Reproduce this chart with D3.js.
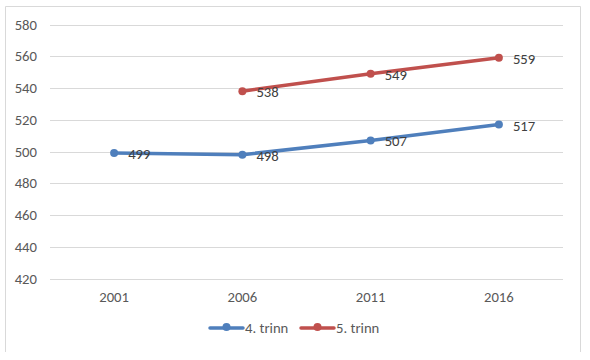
<!DOCTYPE html>
<html><head><meta charset="utf-8">
<script src="https://cdn.jsdelivr.net/npm/d3@7"></script>
<style>body{margin:0;background:#fff;}svg{display:block;font-family:Calibri,Carlito,"Liberation Sans","Open Sans",sans-serif;}</style>
</head><body>
<svg id="c" width="590" height="360"></svg>
<script>
const categories = ["2001","2006","2011","2016"];
const seriesNames = ["4. trinn","5. trinn"];
const trinn4 = [499, 498, 507, 517];
const trinn5 = [null, 538, 549, 559];
const yTicks = [420,440,460,480,500,520,540,560,580];
const colors = ["#4F7FBC","#C0504D"];
const FONT = 'Calibri,Carlito,"Liberation Sans","Open Sans",sans-serif';
const FS = "14.7px";

const svg = d3.select("#c");
// outer chart border (bottom edge cut off by image)
svg.append("path").attr("d","M5.5,352 V6.5 H580.5 V352")
  .attr("fill","none").attr("stroke","#d9d9d9").attr("stroke-width",1);

const x = d3.scaleBand().domain(categories).range([50,563]);
const y = d3.scaleLinear().domain([420,580]).range([278.5,24.5]);

// gridlines
svg.append("g").selectAll("line").data(yTicks).join("line")
  .attr("x1",50).attr("x2",563)
  .attr("y1",d=>Math.round(y(d))+0.5).attr("y2",d=>Math.round(y(d))+0.5)
  .attr("stroke","#d9d9d9").attr("stroke-width",1);

// y axis labels
const yAxis = d3.axisLeft(y).tickValues(yTicks).tickSize(0).tickPadding(0);
const ga = svg.append("g").attr("transform","translate(37,0)").call(yAxis);
ga.select(".domain").remove();
ga.selectAll("text").attr("fill","#595959").style("font-size",FS).style("font-family",FONT);

// x axis labels
const xAxis = d3.axisBottom(x).tickSize(0).tickPadding(0);
const gx = svg.append("g").attr("transform","translate(0,291.5)").call(xAxis);
gx.select(".domain").remove();
gx.selectAll("text").attr("fill","#595959").style("font-size",FS).style("font-family",FONT);

const cx = c => x(c) + x.bandwidth()/2;
const data = [trinn4, trinn5];
data.forEach((vals,i)=>{
  const pts = categories.map((c,j)=>({c, v: vals[j]})).filter(d=>d.v!=null);
  const line = d3.line().x(d=>cx(d.c)).y(d=>y(d.v));
  svg.append("path").datum(pts).attr("d",line).attr("fill","none")
    .attr("stroke",colors[i]).attr("stroke-width",3.5).attr("stroke-linejoin","round").attr("stroke-linecap","round");
  svg.append("g").selectAll("circle").data(pts).join("circle")
    .attr("cx",d=>cx(d.c)).attr("cy",d=>y(d.v)).attr("r",4).attr("fill",colors[i]);
  svg.append("g").selectAll("text").data(pts).join("text")
    .attr("x",d=>cx(d.c)+14).attr("y",d=>y(d.v)+6)
    .attr("fill","#404040").style("font-size",FS).style("font-family",FONT).text(d=>d.v);
});

// legend
const legX = [210, 301];
seriesNames.forEach((n,i)=>{
  const g = svg.append("g").attr("transform",`translate(${legX[i]},328)`);
  g.append("line").attr("x1",0).attr("x2",33).attr("y1",0).attr("y2",0)
    .attr("stroke",colors[i]).attr("stroke-width",3.5).attr("stroke-linecap","round");
  g.append("circle").attr("cx",16.5).attr("cy",-1).attr("r",4).attr("fill",colors[i]);
  g.append("text").attr("x",35).attr("y",5).attr("fill","#595959").style("font-size",FS).style("font-family",FONT).text(n);
});
</script>
</body></html>
